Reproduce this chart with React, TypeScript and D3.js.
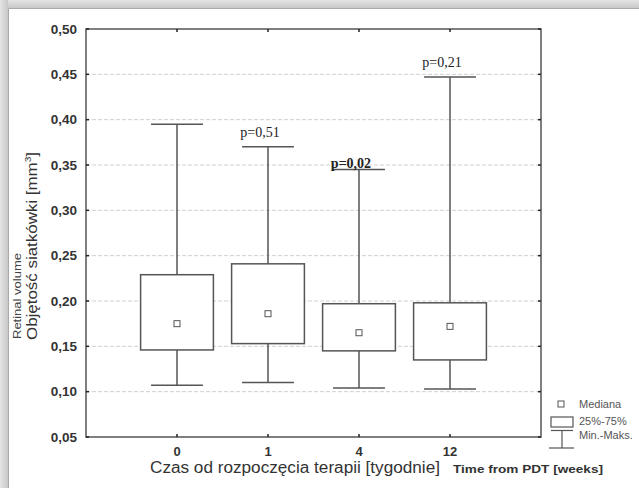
import React from 'react';
import * as d3 from 'd3';

const categories = ['0', '1', '4', '12'];
const minValues = [0.107, 0.110, 0.104, 0.103];
const q1Values = [0.146, 0.153, 0.145, 0.135];
const medianValues = [0.175, 0.186, 0.165, 0.172];
const q3Values = [0.229, 0.241, 0.197, 0.198];
const maxValues = [0.395, 0.370, 0.345, 0.447];
const pLabels = ['', 'p=0,51', 'p=0,02', 'p=0,21'];
const yTicks = [0.05, 0.1, 0.15, 0.2, 0.25, 0.3, 0.35, 0.4, 0.45, 0.5];

const W = 639;
const H = 488;
const plot = { left: 86, right: 541, top: 29, bottom: 437 };
const ink = '#555';
const sans = 'Arial, "Liberation Sans", sans-serif';

export default function App() {
    const x = d3.scalePoint<string>()
        .domain(categories)
        .range([plot.left, plot.right])
        .padding(1);

    const y = d3.scaleLinear()
        .domain([0.05, 0.5])
        .range([plot.bottom, plot.top]);

    const step = x.step();
    const boxW = step * 0.8;
    const capW = step * 0.57;
    const fmt = (v: number) => v.toFixed(2).replace('.', ',');

    return (
        <svg width={W} height={H} style={{ position: 'absolute', left: 0, top: 0, background: '#fff' }}>
            <defs>
                <linearGradient id="gl" x1="0" x2="1" y1="0" y2="0">
                    <stop offset="0" stopColor="#e4e4e4" />
                    <stop offset="1" stopColor="#c8c8c8" />
                </linearGradient>
                <linearGradient id="gt" x1="0" x2="0" y1="0" y2="1">
                    <stop offset="0" stopColor="#e4e4e4" />
                    <stop offset="1" stopColor="#c8c8c8" />
                </linearGradient>
            </defs>
            {/* page frame */}
            <rect x={0} y={0} width={W} height={8} fill="url(#gt)" />
            <rect x={0} y={0} width={8} height={H} fill="url(#gl)" />
            <line x1={8.5} x2={W} y1={8.5} y2={8.5} stroke="#aaa" />
            <line x1={8.5} x2={8.5} y1={8.5} y2={H} stroke="#aaa" />

            {/* grid */}
            {yTicks.slice(1, -1).map(t => (
                <line key={t} x1={plot.left} x2={plot.right} y1={y(t)} y2={y(t)}
                    stroke="#d0d0d0" strokeDasharray="4,2" />
            ))}

            {/* frame */}
            <rect x={plot.left} y={plot.top} width={plot.right - plot.left} height={plot.bottom - plot.top}
                fill="none" stroke={ink} strokeWidth={1.5} />

            {/* ticks */}
            {yTicks.map(t => (
                <g key={t}>
                    <line x1={plot.left} x2={plot.left + 3} y1={y(t)} y2={y(t)} stroke="#222" strokeWidth={1.5} />
                    <line x1={plot.right - 3} x2={plot.right} y1={y(t)} y2={y(t)} stroke="#222" strokeWidth={1.5} />
                    <text x={77} y={y(t)} dy="0.35em" textAnchor="end" fontFamily={sans}
                        fontWeight="bold" fontSize={13.5} fill="#333">{fmt(t)}</text>
                </g>
            ))}
            {categories.map(c => (
                <g key={c}>
                    <line x1={x(c)} x2={x(c)} y1={plot.bottom} y2={plot.bottom - 3} stroke="#222" strokeWidth={1.5} />
                    <line x1={x(c)} x2={x(c)} y1={plot.top} y2={plot.top + 3} stroke="#222" strokeWidth={1.5} />
                    <text x={x(c)} y={456} textAnchor="middle" fontFamily={sans}
                        fontWeight="bold" fontSize={13} fill="#333">{c}</text>
                </g>
            ))}

            {/* boxes */}
            {categories.map((c, i) => {
                const cx = x(c) as number;
                return (
                    <g key={c} stroke={ink} strokeWidth={1.5} fill="none">
                        <line x1={cx} x2={cx} y1={y(maxValues[i])} y2={y(q3Values[i])} />
                        <line x1={cx} x2={cx} y1={y(q1Values[i])} y2={y(minValues[i])} />
                        <line x1={cx - capW / 2} x2={cx + capW / 2} y1={y(maxValues[i])} y2={y(maxValues[i])} />
                        <line x1={cx - capW / 2} x2={cx + capW / 2} y1={y(minValues[i])} y2={y(minValues[i])} />
                        <rect x={cx - boxW / 2} y={y(q3Values[i])} width={boxW}
                            height={y(q1Values[i]) - y(q3Values[i])} fill="#fff" />
                        <rect x={cx - 3} y={y(medianValues[i]) - 3} width={6} height={6} strokeWidth={1} fill="#fff" />
                    </g>
                );
            })}

            {/* p values */}
            {categories.map((c, i) => pLabels[i] ? (
                <text key={c} x={(x(c) as number) - 8}
                    y={y(maxValues[i]) - (i === 2 ? 2 : 10)}
                    textAnchor="middle" fontFamily='"Liberation Serif", "Times New Roman", serif'
                    fontWeight={i === 2 ? 'bold' : 'normal'} fontSize={14} fill="#222">{pLabels[i]}</text>
            ) : null)}

            {/* axis titles */}
            <text transform="translate(37,340) rotate(-90)" fontFamily={sans}
                fontSize={15} fill="#333" textLength={188} lengthAdjust="spacingAndGlyphs">
                Objętość siatkówki [mm<tspan dy="-6" fontSize={9}>3</tspan><tspan dy="6">]</tspan>
            </text>
            <text transform="translate(21,339) rotate(-90)" fontFamily={sans}
                fontSize={11.5} fill="#444" textLength={86} lengthAdjust="spacingAndGlyphs">Retinal volume</text>
            <text x={150} y={473} fontFamily={sans} fontSize={16} fill="#333" textLength={290}
                lengthAdjust="spacingAndGlyphs">
                Czas od rozpoczęcia terapii [tygodnie]
            </text>
            <text x={453} y={473} fontFamily={sans} fontSize={11} fontWeight="bold" fill="#333" textLength={150}
                lengthAdjust="spacingAndGlyphs">
                Time from PDT [weeks]
            </text>

            {/* legend */}
            <g stroke={ink} strokeWidth={1.2} fill="#fff">
                <rect x={558} y={401} width={6} height={6} strokeWidth={1} />
                <rect x={551} y={417} width={22} height={10} />
                <line x1={551} x2={573} y1={430.5} y2={430.5} />
                <line x1={562} x2={562} y1={430.5} y2={448} />
                <line x1={549} x2={574} y1={448} y2={448} />
            </g>
            <g fontFamily={sans} fontSize={11} fill="#555">
                <text x={579} y={408}>Mediana</text>
                <text x={579} y={425}>25%-75%</text>
                <text x={579} y={439}>Min.-Maks.</text>
            </g>
        </svg>
    );
}
